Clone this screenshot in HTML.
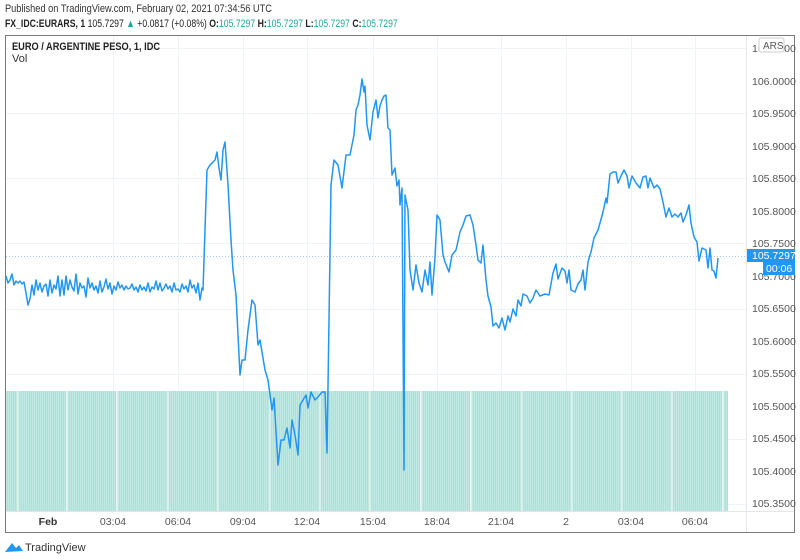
<!DOCTYPE html>
<html><head><meta charset="utf-8"><style>
body{margin:0;width:800px;height:560px;background:#fff;font-family:"Liberation Sans",sans-serif;overflow:hidden;position:relative}
.t{position:absolute;white-space:nowrap;transform-origin:0 0}
</style></head><body>
<div class="t" style="left:5px;top:3px;font-size:11px;color:#333;transform:scaleX(0.84)">Published on TradingView.com, February 02, 2021 07:34:56 UTC</div>
<div class="t" style="left:5px;top:18px;font-size:11px;color:#222;transform:scaleX(0.79)"><b>FX_IDC:EURARS, 1</b> 105.7297 <span style="color:#26a69a">▲</span> +0.0817 (+0.08%) <b>O:</b><span style="color:#26a69a">105.7297</span> <b>H:</b><span style="color:#26a69a">105.7297</span> <b>L:</b><span style="color:#26a69a">105.7297</span> <b>C:</b><span style="color:#26a69a">105.7297</span></div>
<svg width="800" height="560" style="position:absolute;left:0;top:0">
<defs>
<pattern id="vp" width="2" height="10" patternUnits="userSpaceOnUse"><rect width="2" height="10" fill="#ace0d8"/><rect width="0.6" height="10" fill="#d0eeea"/></pattern>
</defs>
<g stroke="#f0f3f5" stroke-width="1">
<line x1="6" x2="746" y1="48.5" y2="48.5"/><line x1="6" x2="746" y1="113.5" y2="113.5"/><line x1="6" x2="746" y1="178.5" y2="178.5"/><line x1="6" x2="746" y1="243.5" y2="243.5"/><line x1="6" x2="746" y1="309.5" y2="309.5"/><line x1="6" x2="746" y1="374.5" y2="374.5"/><line x1="6" x2="746" y1="439.5" y2="439.5"/><line x1="6" x2="746" y1="504.5" y2="504.5"/>
<line x1="113.5" x2="113.5" y1="36" y2="511"/><line x1="178.5" x2="178.5" y1="36" y2="511"/><line x1="243.5" x2="243.5" y1="36" y2="511"/><line x1="307.5" x2="307.5" y1="36" y2="511"/><line x1="373.5" x2="373.5" y1="36" y2="511"/><line x1="437.5" x2="437.5" y1="36" y2="511"/><line x1="501.5" x2="501.5" y1="36" y2="511"/><line x1="566.5" x2="566.5" y1="36" y2="511"/><line x1="631.5" x2="631.5" y1="36" y2="511"/><line x1="695.5" x2="695.5" y1="36" y2="511"/>
</g>
<rect x="6" y="391" width="722" height="120" fill="url(#vp)"/>
<g stroke="#fff" stroke-width="1">
<line x1="18" x2="18" y1="391" y2="511"/><line x1="67" x2="67" y1="391" y2="511"/><line x1="117" x2="117" y1="391" y2="511"/><line x1="168" x2="168" y1="391" y2="511"/><line x1="218" x2="218" y1="391" y2="511"/><line x1="270" x2="270" y1="391" y2="511"/><line x1="320" x2="320" y1="391" y2="511"/><line x1="370" x2="370" y1="391" y2="511"/><line x1="421" x2="421" y1="391" y2="511"/><line x1="471" x2="471" y1="391" y2="511"/><line x1="522" x2="522" y1="391" y2="511"/><line x1="572" x2="572" y1="391" y2="511"/><line x1="622" x2="622" y1="391" y2="511"/><line x1="672" x2="672" y1="391" y2="511"/><line x1="723" x2="723" y1="391" y2="511"/>
</g>
<line x1="6" x2="746" y1="256.5" y2="256.5" stroke="#9fc7ea" stroke-dasharray="1,2"/>
<polyline fill="none" stroke="#2196f3" stroke-width="1.5" stroke-linejoin="round" points="6,276 8,283 10,280 12,274 14,285 16,281 18,283 20,281 22,284 24,282 26,293 28,305 30,299 32,285 34,295 36,280 38,290 40,283 42,292 44,286 46,284 48,296 50,280 52,293 54,285 56,289 58,276 60,296 62,280 64,295 66,276 68,290 70,280 72,287 74,291 76,274 78,294 80,283 82,288 84,286 86,297 88,278 90,288 92,283 94,290 96,286 98,293 100,281 102,292 104,287 106,279 108,289 110,283 112,294 114,286 116,290 118,282 120,288 122,285 124,290 126,286 128,289 130,288 132,284 134,290 136,287 138,292 140,285 142,290 144,287 146,291 148,283 150,292 152,287 154,289 156,281 158,290 160,283 162,291 164,288 166,284 168,289 170,286 172,292 174,283 176,290 178,289 180,292 182,284 184,289 186,286 188,292 190,280 192,288 194,285 196,293 198,283 200,300 202,288 203,290 207,170 210,165 213,162 215,160 217,152 219,168 221,180 223,150 225,142 228,185 231,240 233,270 236,295 240,375 242,360 245,360 248,330 252,300 255,305 258,345 260,340 265,370 268,380 272,410 274,398 278,465 281,440 284,440 287,428 290,448 292,420 295,435 298,455 300,405 303,400 306,395 308,408 311,392 315,400 318,397 322,392 325,392 327,453 329,320 331,185 334,160 338,165 342,188 346,155 350,155 354,135 356,110 358,105 360,95 362,79 364,92 365,86 367,125 370,140 373,112 376,100 378,118 380,106 382,100 384,96 386,95 388,128 390,130 392,175 395,168 397,186 399,180 400,205 402,188 404,470 405,195 408,210 410,270 413,290 416,265 419,283 422,292 425,270 428,285 430,262 432,295 435,258 437,215 440,220 443,255 445,262 449,272 452,255 456,250 460,232 463,225 466,216 470,215 473,225 476,245 478,260 481,263 483,245 486,280 488,296 491,307 493,326 496,323 499,328 502,318 505,330 508,316 510,322 513,309 516,316 518,300 521,306 523,294 527,296 530,303 533,298 536,290 540,296 545,294 549,295 553,273 556,264 558,279 562,268 565,271 567,283 569,270 571,290 575,292 578,284 581,280 583,270 585,290 588,262 591,252 594,238 598,230 600,223 603,212 606,198 607,203 610,174 613,172 616,172 618,183 621,176 624,170 627,176 629,188 632,176 636,183 640,188 643,177 646,176 648,188 650,178 654,188 657,185 660,189 663,202 666,217 669,208 672,217 675,214 678,217 681,213 683,222 686,215 689,205 691,223 694,237 697,242 699,261 702,248 706,250 708,268 710,248 712,270 714,271 716,278 718,258"/>
<line x1="746.5" x2="746.5" y1="35" y2="532" stroke="#e3e6ea"/>
<line x1="6" x2="795" y1="511.5" y2="511.5" stroke="#e3e6ea"/>
<rect x="5.5" y="35.5" width="789" height="497" fill="none" stroke="#7a7a7a"/>
<g font-size="10.5" fill="#555" text-anchor="start">
<text x="752" y="85">106.0000</text><text x="752" y="117">105.9500</text><text x="752" y="150">105.9000</text><text x="752" y="182">105.8500</text><text x="752" y="215">105.8000</text><text x="752" y="247">105.7500</text><text x="752" y="280">105.7000</text><text x="752" y="312">105.6500</text><text x="752" y="345">105.6000</text><text x="752" y="377">105.5500</text><text x="752" y="410">105.5000</text><text x="752" y="442">105.4500</text><text x="752" y="475">105.4000</text><text x="752" y="507">105.3500</text><text x="752" y="52">106.0500</text>
</g>
<rect x="759" y="38" width="25" height="14" fill="#fff" stroke="#ccc" rx="2"/>
<text x="763" y="49" font-size="10" fill="#555">ARS</text>
<rect x="747" y="249" width="48" height="13" fill="#2196f3"/>
<text x="752" y="259" font-size="10.5" fill="#fff">105.7297</text>
<rect x="763" y="262" width="32" height="13" fill="#2196f3"/>
<text x="766" y="272" font-size="10.5" fill="#fff">00:06</text>
<g font-size="10.5" fill="#555" text-anchor="middle">
<text x="48" y="525" font-weight="bold" fill="#333">Feb</text><text x="113" y="525">03:04</text><text x="178" y="525">06:04</text><text x="243" y="525">09:04</text><text x="307" y="525">12:04</text><text x="373" y="525">15:04</text><text x="437" y="525">18:04</text><text x="501" y="525">21:04</text><text x="566" y="525">2</text><text x="631" y="525">03:04</text><text x="695" y="525">06:04</text>
</g>
<path d="M5,552 L12,543 L16,548 L19,545 L23,551 Z" fill="#2196f3"/>
<text x="25" y="551" font-size="11" fill="#333">TradingView</text>
</svg>
<div class="t" style="left:12px;top:41px;font-size:11px;font-weight:bold;color:#222;transform:scaleX(0.84)">EURO / ARGENTINE PESO, 1, IDC</div>
<div class="t" style="left:12px;top:53px;font-size:11px;color:#333">Vol</div>
</body></html>
